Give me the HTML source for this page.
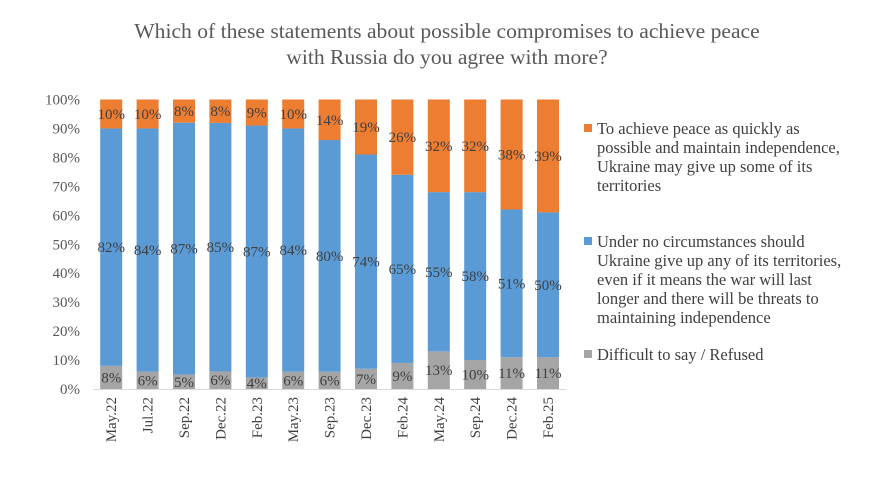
<!DOCTYPE html>
<html><head><meta charset="utf-8"><style>
body{margin:0;background:#fff;width:885px;height:486px;overflow:hidden;font-family:"Liberation Serif",serif}
</style></head><body>
<svg width="885" height="486" xmlns="http://www.w3.org/2000/svg" font-family="Liberation Serif, serif">
<text x="447" y="38" text-anchor="middle" font-size="21.6" fill="#595959">Which of these statements about possible compromises to achieve peace</text>
<text x="447" y="64" text-anchor="middle" font-size="21.6" fill="#595959">with Russia do you agree with more?</text>
<g id="plot"></g>
<g font-size="16.5" fill="#404040">
<rect x="584" y="124" width="8" height="8" fill="#ED7D31"/>
<text x="597" y="134">To achieve peace as quickly as</text>
<text x="597" y="153">possible and maintain independence,</text>
<text x="597" y="172">Ukraine may give up some of its</text>
<text x="597" y="191">territories</text>
<rect x="584" y="237" width="8" height="8" fill="#5B9BD5"/>
<text x="597" y="247">Under no circumstances should</text>
<text x="597" y="266">Ukraine give up any of its territories,</text>
<text x="597" y="285">even if it means the war will last</text>
<text x="597" y="304">longer and there will be threats to</text>
<text x="597" y="323">maintaining independence</text>
<rect x="584" y="350" width="8" height="8" fill="#A5A5A5"/>
<text x="597" y="360">Difficult to say / Refused</text>
</g>
</svg>
<script>
const categories=["May.22","Jul.22","Sep.22","Dec.22","Feb.23","May.23","Sep.23","Dec.23","Feb.24","May.24","Sep.24","Dec.24","Feb.25"];
const difficult=[8,6,5,6,4,6,6,7,9,13,10,11,11];
const noConcessions=[82,84,87,85,87,84,80,74,65,55,58,51,50];
const peace=[10,10,8,8,9,10,14,19,26,32,32,38,39];
const yTicks=[0,10,20,30,40,50,60,70,80,90,100];
const NS="http://www.w3.org/2000/svg";
const g=document.getElementById('plot');
const y0=389,y1=99.5,x0=93,step=36.4,bw=22;
const y=v=>y0-(y0-y1)*v/100;
const xc=i=>x0+step*(i+0.5);
function mk(t,a){const e=document.createElementNS(NS,t);for(const k in a)e.setAttribute(k,a[k]);g.appendChild(e);return e;}
yTicks.forEach(t=>{const e=mk('text',{x:80,y:y(t)+5,'text-anchor':'end','font-size':15,fill:'#595959'});e.textContent=t+'%';

});
const series=[[difficult,'#A5A5A5','difficult'],[noConcessions,'#5B9BD5','no-concessions'],[peace,'#ED7D31','peace']];
categories.forEach((c,i)=>{
  const tot=difficult[i]+noConcessions[i]+peace[i];let acc=0;
  series.forEach(([arr,col,nm])=>{
    const v=arr[i]*100/tot;const top=y(acc+v),bot=y(acc);
    const r=mk('rect',{x:xc(i)-bw/2,y:top,width:bw,height:bot-top,fill:col});
    
    
    const t=mk('text',{x:xc(i),y:(top+bot)/2+5,'text-anchor':'middle','font-size':15,fill:'#404040'});
    t.textContent=arr[i]+'%';
    
    
    acc+=v;});
  const l=mk('text',{transform:`translate(${xc(i)+5},${y0+8}) rotate(-90)`,'text-anchor':'end','font-size':15,fill:'#404040'});
  l.textContent=c;
  
  
});
const ax=mk('line',{x1:x0,x2:x0+step*categories.length,y1:y0+0.5,y2:y0+0.5,stroke:'#D9D9D9'});


</script>
</body></html>
